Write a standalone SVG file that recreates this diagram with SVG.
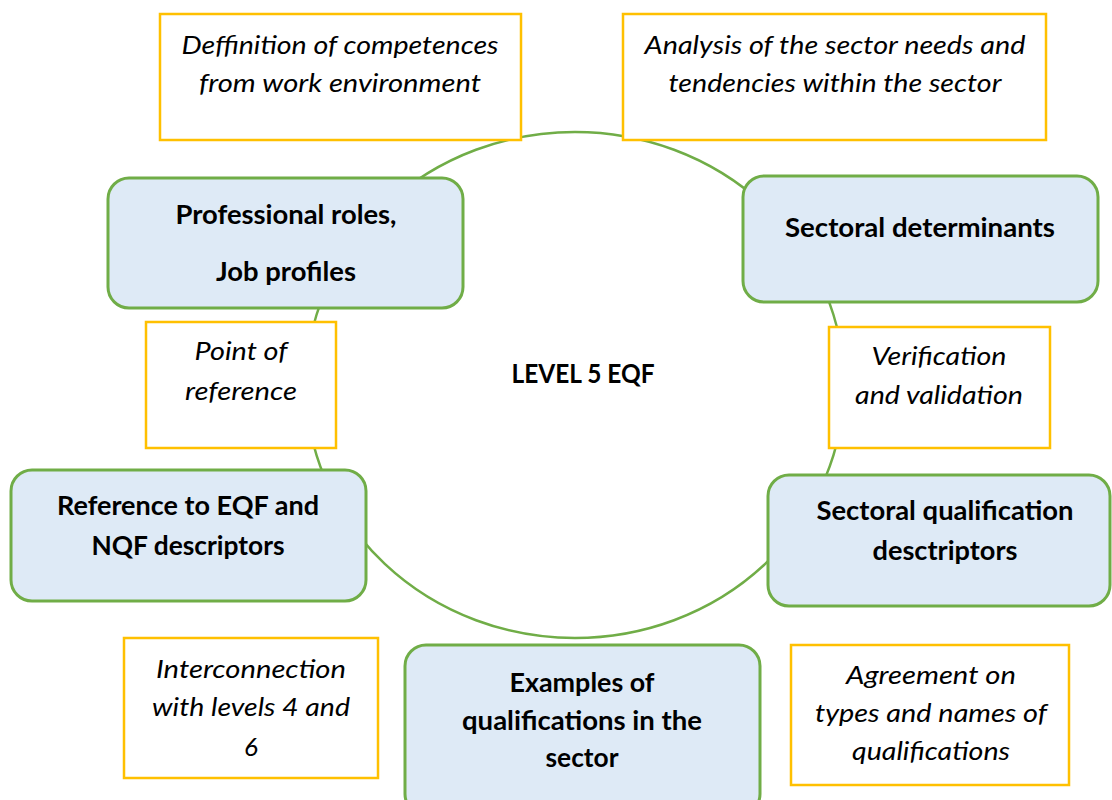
<svg xmlns="http://www.w3.org/2000/svg" width="1112" height="800" viewBox="0 0 1112 800">
  <style>
    .ring { fill: none; stroke: #70AD47; stroke-width: 2.5; }
    .node rect { fill: #DEEAF6; stroke: #70AD47; stroke-width: 3; }
    .note rect { fill: #FFFFFF; stroke: #FFC000; stroke-width: 2.5; }
    text { font-family: Lato, "Open Sans", "Liberation Sans", sans-serif; fill: #000; text-anchor: middle; }
    .node text, .title { font-weight: bold; font-size: 27px; }
    .note text { font-style: italic; font-size: 26px; }
  </style>
  <rect width="1112" height="800" fill="#FFFFFF"/>

  <!-- ring linking the stages -->
  <g id="connectors">
    <ellipse class="ring" cx="575" cy="385" rx="269" ry="253"/>
  </g>

  <text class="title" x="583" y="383" textLength="143" lengthAdjust="spacingAndGlyphs">LEVEL 5 EQF</text>

  <!-- notes -->
  <g id="note-definition" class="note">
    <rect x="160" y="14" width="361" height="126"/>
    <text x="340" y="54" textLength="317" lengthAdjust="spacingAndGlyphs">Deffinition of competences</text>
    <text x="340" y="92" textLength="282" lengthAdjust="spacingAndGlyphs">from work environment</text>
  </g>
  <g id="note-analysis" class="note">
    <rect x="623" y="14" width="423" height="126"/>
    <text x="835" y="54" textLength="381" lengthAdjust="spacingAndGlyphs">Analysis of the sector needs and</text>
    <text x="835" y="92" textLength="333" lengthAdjust="spacingAndGlyphs">tendencies within the sector</text>
  </g>
  <g id="note-reference" class="note">
    <rect x="146" y="322" width="190" height="126"/>
    <text x="241" y="360" textLength="93" lengthAdjust="spacingAndGlyphs">Point of</text>
    <text x="241" y="400" textLength="112" lengthAdjust="spacingAndGlyphs">reference</text>
  </g>
  <g id="note-verification" class="note">
    <rect x="829" y="327" width="221" height="121"/>
    <text x="939" y="365" textLength="135" lengthAdjust="spacingAndGlyphs">Verification</text>
    <text x="939" y="404" textLength="168" lengthAdjust="spacingAndGlyphs">and validation</text>
  </g>
  <g id="note-interconnection" class="note">
    <rect x="124" y="638" width="254" height="140"/>
    <text x="251" y="678" textLength="190" lengthAdjust="spacingAndGlyphs">Interconnection</text>
    <text x="251" y="716" textLength="198" lengthAdjust="spacingAndGlyphs">with levels 4 and</text>
    <text x="251" y="756">6</text>
  </g>
  <g id="note-agreement" class="note">
    <rect x="791" y="645" width="278" height="140"/>
    <text x="931" y="684" textLength="170" lengthAdjust="spacingAndGlyphs">Agreement on</text>
    <text x="931" y="722" textLength="232" lengthAdjust="spacingAndGlyphs">types and names of</text>
    <text x="931" y="760" textLength="158" lengthAdjust="spacingAndGlyphs">qualifications</text>
  </g>

  <!-- stage nodes -->
  <g id="node-roles" class="node">
    <rect x="108" y="178" width="355" height="130" rx="21"/>
    <text x="286" y="224" textLength="221" lengthAdjust="spacingAndGlyphs">Professional roles,</text>
    <text x="286" y="281" textLength="140" lengthAdjust="spacingAndGlyphs">Job profiles</text>
  </g>
  <g id="node-determinants" class="node">
    <rect x="743" y="176" width="355" height="126" rx="21"/>
    <text x="920" y="237" textLength="270" lengthAdjust="spacingAndGlyphs">Sectoral determinants</text>
  </g>
  <g id="node-descriptors" class="node">
    <rect x="11" y="470" width="355" height="131" rx="21"/>
    <text x="188" y="515" textLength="262" lengthAdjust="spacingAndGlyphs">Reference to EQF and</text>
    <text x="188" y="555" textLength="193" lengthAdjust="spacingAndGlyphs">NQF descriptors</text>
  </g>
  <g id="node-sectoral" class="node">
    <rect x="768" y="475" width="342" height="131" rx="21"/>
    <text x="945" y="520" textLength="257" lengthAdjust="spacingAndGlyphs">Sectoral qualification</text>
    <text x="945" y="560" textLength="145" lengthAdjust="spacingAndGlyphs">desctriptors</text>
  </g>
  <g id="node-examples" class="node">
    <rect x="405" y="645" width="355" height="170" rx="21"/>
    <text x="582" y="692" textLength="145" lengthAdjust="spacingAndGlyphs">Examples of</text>
    <text x="582" y="730" textLength="240" lengthAdjust="spacingAndGlyphs">qualifications in the</text>
    <text x="582" y="767" textLength="73" lengthAdjust="spacingAndGlyphs">sector</text>
  </g>
</svg>
